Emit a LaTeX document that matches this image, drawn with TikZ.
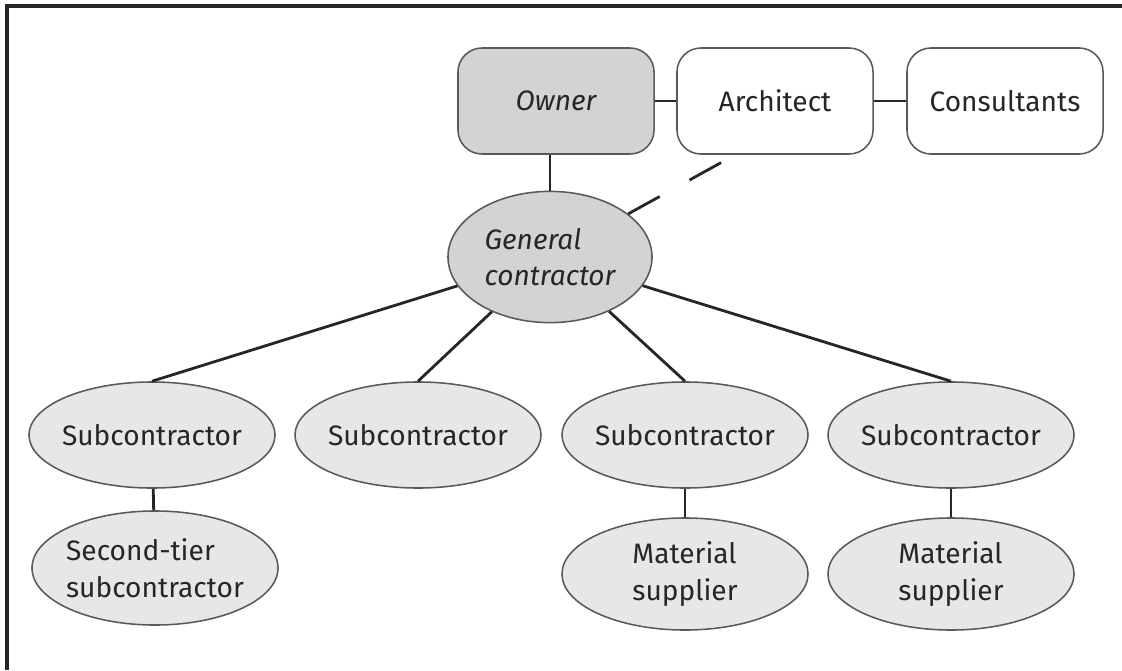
\documentclass[tikz,border=0pt]{standalone}
\usepackage{fontspec}
\setmainfont{Fira Sans}
\usepackage{xcolor}
\usetikzlibrary{shapes.geometric}

\definecolor{darkfill}{HTML}{D2D3D5}
\definecolor{lightfill}{HTML}{E6E7E9}

\begin{document}
\begin{tikzpicture}[x=0.025cm, y=-0.025cm,
    every node/.style={font=\fontsize{20}{26}\selectfont, text=black!85},
    box/.style={draw=black!65, line width=1.1pt, rounded corners=0.6cm,
        minimum width=4.9cm, minimum height=2.65cm},
    oval/.style={draw=black!65, line width=1.1pt, ellipse, fill=lightfill,
        minimum width=6.15cm, minimum height=2.65cm, align=left,
        inner xsep=-0.4cm, inner ysep=0pt},
    link/.style={line width=2pt, black!85}]
    \useasboundingbox (0,0) rectangle (1122,670);

    % frame, cut off at the right and bottom
    \draw[line width=2.2pt, black!85] (7,670) -- (7,6) -- (1122,6);

    % top row
    \node[box, fill=darkfill, font=\fontsize{20}{26}\selectfont\itshape] (owner) at (556,101) {Owner};
    \node[box, fill=white] (architect) at (775,101) {Architect};
    \node[box, fill=white] (consultants) at (1005,101) {Consultants};

    \node[oval, fill=darkfill, minimum width=5.1cm, minimum height=3.28cm,
        font=\fontsize{20}{26}\selectfont\itshape] (gc) at (550,257) {General\\contractor};

    % subcontractors
    \foreach \n/\x in {sub1/152, sub2/418, sub3/685, sub4/951} {
        \node[oval] (\n) at (\x,435) {Subcontractor};
    }

    \node[oval, minimum height=2.85cm] (tier2) at (155,568) {Second-tier\\subcontractor};
    \node[oval, minimum height=2.8cm] (mat1) at (685,574) {Material\\supplier};
    \node[oval, minimum height=2.8cm] (mat2) at (951,574) {Material\\supplier};

    % connectors
    \draw[link] (owner) -- (architect);
    \draw[link] (architect) -- (consultants);
    \draw[link] (gc.north) -- (gc.north |- owner.south);
    \foreach \n in {sub1, sub2, sub3, sub4} {
        \draw[link] (gc) -- (\n.north);
    }
    \draw[link] (sub1) -- (tier2);
    \draw[link] (sub3) -- (mat1);
    \draw[link] (sub4) -- (mat2);

    \coordinate (archfoot) at (724,161);
    \draw[link, dash pattern=on 0.9cm off 0.85cm] (gc) -- (archfoot);
\end{tikzpicture}
\end{document}
